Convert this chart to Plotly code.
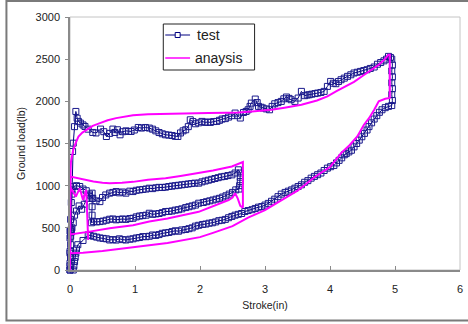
import plotly.graph_objects as go

# ---------------- data ----------------
test_x = [0.0, 0.01, 0.02, 0.03, 0.04, 0.05, 0.07, 0.09, 0.11, 0.13, 0.16, 0.2, 0.23, 0.28, 0.35, 0.4, 0.47, 0.52, 0.56, 0.61,
          0.66, 0.69, 0.73, 0.77, 0.81, 0.86, 0.9, 0.94, 0.99, 1.05, 1.1, 1.16, 1.22, 1.27, 1.32, 1.37, 1.42, 1.47, 1.52, 1.57,
          1.62, 1.66, 1.7, 1.74, 1.78, 1.82, 1.85, 1.89, 1.93, 1.98, 2.03, 2.08, 2.12, 2.16, 2.21, 2.26, 2.3, 2.34, 2.39, 2.44,
          2.49, 2.54, 2.58, 2.62, 2.67, 2.71, 2.74, 2.77, 2.79, 2.85, 2.88, 2.9, 2.94, 2.97, 3.02, 3.07, 3.11, 3.15, 3.2, 3.25,
          3.29, 3.33, 3.37, 3.4, 3.46, 3.51, 3.56, 3.61, 3.65, 3.68, 3.72, 3.77, 3.81, 3.86, 3.91, 3.96, 4.01, 4.05, 4.09, 4.13,
          4.17, 4.22, 4.27, 4.32, 4.37, 4.42, 4.47, 4.52, 4.57, 4.62, 4.68, 4.73, 4.78, 4.83, 4.87, 4.9, 4.93,
          4.95, 4.96, 4.95, 4.96, 4.95, 4.96, 4.95, 4.96, 4.95,
          4.9, 4.85, 4.8, 4.76, 4.72, 4.68, 4.64, 4.6, 4.57, 4.53, 4.49, 4.45, 4.41, 4.37, 4.33, 4.29, 4.25, 4.22, 4.18, 4.14,
          4.1, 4.06, 4.01, 3.96, 3.91, 3.86, 3.81, 3.76, 3.71, 3.66, 3.61, 3.56, 3.51, 3.46, 3.41, 3.36, 3.31, 3.25, 3.2, 3.15,
          3.1, 3.05, 3.0, 2.95, 2.9, 2.85, 2.8, 2.74, 2.69, 2.64, 2.59, 2.54, 2.49, 2.44, 2.39, 2.34, 2.29, 2.24, 2.19, 2.14,
          2.09, 2.04, 1.98, 1.93, 1.88, 1.83, 1.78, 1.72, 1.67, 1.62, 1.57, 1.52, 1.47, 1.42, 1.37, 1.32, 1.27, 1.22, 1.17, 1.12,
          1.07, 1.02, 0.97, 0.92, 0.86, 0.81, 0.76, 0.71, 0.66, 0.61, 0.56, 0.51, 0.46, 0.41, 0.36, 0.31, 0.28,
          0.2, 0.12, 0.1, 0.09, 0.08, 0.07, 0.06, 0.05,
          0.0, 0.0, 0.01, 0.01, 0.02, 0.03,
          0.05, 0.1, 0.15, 0.2, 0.25, 0.3, 0.35, 0.4, 0.46, 0.5, 0.55, 0.61, 0.66, 0.71, 0.76, 0.81, 0.86, 0.92, 0.97, 1.02,
          1.07, 1.12, 1.17, 1.22, 1.27, 1.32, 1.37, 1.42, 1.47, 1.52, 1.57, 1.62, 1.67, 1.72, 1.77, 1.82, 1.87, 1.92, 1.98, 2.03,
          2.08, 2.13, 2.18, 2.23, 2.28, 2.33, 2.38, 2.43, 2.49, 2.54, 2.59,
          2.62, 2.62, 2.62, 2.61, 2.6,
          2.55, 2.5, 2.45, 2.4, 2.35, 2.3, 2.25, 2.2, 2.15, 2.1, 2.05, 1.98, 1.93, 1.88, 1.83, 1.78, 1.72, 1.67, 1.62, 1.57,
          1.52, 1.47, 1.42, 1.37, 1.32, 1.27, 1.22, 1.17, 1.12, 1.07, 1.02, 0.97, 0.92, 0.86, 0.81, 0.76, 0.71, 0.66, 0.61, 0.56,
          0.51, 0.46, 0.41, 0.36, 0.33,
          0.34, 0.34, 0.34, 0.34,
          0.3, 0.26, 0.22, 0.18, 0.14, 0.1, 0.07, 0.05, 0.03, 0.02, 0.01, 0.0, 0.0, 0.01, 0.0, 0.01, 0.0, 0.0]

test_y = [0, 150, 450, 900, 1405, 1504, 1700, 1880, 1800, 1762, 1742, 1720, 1702, 1670, 1631, 1625, 1671, 1640, 1583, 1620,
          1671, 1631, 1663, 1603, 1640, 1650, 1643, 1643, 1660, 1690, 1683, 1690, 1683, 1670, 1650, 1630, 1615, 1603, 1600, 1595,
          1585, 1583, 1625, 1650, 1663, 1700, 1781, 1760, 1734, 1745, 1762, 1750, 1755, 1750, 1760, 1762, 1775, 1790, 1795, 1813,
          1830, 1861, 1830, 1802, 1868, 1880, 1900, 1940, 1979, 2027, 1985, 1940, 1930, 1920, 1910, 1900, 1940, 1971, 1985, 1999,
          2030, 2051, 2035, 2019, 1999, 2039, 2118, 2067, 2075, 2078, 2085, 2092, 2098, 2105, 2118, 2177, 2236, 2215, 2209, 2235,
          2256, 2275, 2296, 2315, 2336, 2345, 2355, 2365, 2375, 2390, 2407, 2440, 2460, 2480, 2500, 2533, 2520,
          2500, 2430, 2360, 2290, 2220, 2150, 2080, 2010, 1950,
          1940, 1925, 1900, 1870, 1830, 1790, 1745, 1700, 1660, 1620, 1580, 1540, 1500, 1460, 1420, 1400, 1380, 1366, 1330, 1300,
          1270, 1240, 1225, 1208, 1180, 1150, 1130, 1110, 1089, 1060, 1040, 1010, 990, 970, 950, 935, 920, 900, 870, 840,
          815, 790, 770, 752, 745, 730, 715, 705, 693, 670, 660, 650, 635, 620, 600, 590, 585, 570, 560, 555,
          545, 540, 530, 520, 500, 490, 480, 475, 460, 465, 455, 445, 440, 435, 420, 410, 415, 400, 395, 396,
          385, 380, 370, 365, 356, 360, 370, 355, 360, 356, 370, 375, 380, 390, 400, 410, 416,
          350, 300, 250, 200, 150, 100, 50, 0,
          50, 200, 400, 600, 800, 950,
          990, 1000, 990, 960, 940, 880, 850, 820, 811, 860, 890, 911, 920, 930, 915, 925, 911, 935, 930, 945,
          950, 955, 960, 970, 965, 975, 980, 978, 982, 990, 995, 1000, 1005, 1010, 1015, 1020, 1025, 1030, 1030, 1045,
          1055, 1065, 1075, 1085, 1095, 1105, 1110, 1120, 1128, 1150, 1188,
          1150, 1100, 1050, 1000, 960,
          950, 920, 900, 880, 865, 850, 840, 830, 820, 810, 800, 792, 770, 760, 750, 740, 725, 715, 710, 700,
          695, 693, 680, 670, 665, 660, 673, 650, 645, 640, 630, 614, 610, 600, 605, 600, 595, 605, 602, 590,
          580, 574, 570, 574, 560,
          650, 750, 850, 911,
          900, 850, 780, 720, 760, 700, 650, 560, 500, 480, 470, 460, 380, 300, 220, 150, 80, 0]

ana_x = [0.0, 0.0, 0.005, 0.01, 0.015, 0.03, 0.05, 0.09, 0.13, 0.19, 0.25, 0.35, 0.46, 0.58, 0.71, 0.84, 0.97, 1.2, 1.5, 1.8,
         2.13, 2.4, 2.59, 2.8, 3.1, 3.3, 3.56, 3.8, 3.96, 4.1, 4.25, 4.37, 4.5, 4.6, 4.68, 4.76, 4.83, 4.9,
         4.92, 4.92, 4.92, 4.85, 4.8, 4.75, 4.68, 4.6, 4.52, 4.42, 4.3, 4.17, 4.0, 3.76, 3.5, 3.25, 3.0, 2.74, 2.5, 2.2,
         2.0, 1.5, 1.0, 0.5, 0.2, 0.0,
         0.0, 0.1, 0.2, 0.36, 0.5, 0.61, 0.8, 0.97, 1.2, 1.47, 1.7, 1.98, 2.2, 2.49, 2.66,
         2.66, 2.66, 2.62, 2.58, 2.54, 2.5, 2.44, 2.2, 1.98, 1.5, 1.22, 0.97, 0.61, 0.3, 0.0,
         0.0, 0.05, 0.09, 0.15, 0.2, 0.25, 0.28]

ana_y = [0, 600, 1000, 1200, 1286, 1370, 1425, 1510, 1583, 1630, 1663, 1710, 1742, 1775, 1801, 1822, 1835, 1848, 1855, 1860,
         1862, 1866, 1868, 1880, 1900, 1925, 1960, 2010, 2058, 2120, 2180, 2230, 2300, 2350, 2390, 2440, 2490, 2553,
         2553, 2300, 2040, 2030, 2019, 2000, 1900, 1800, 1720, 1583, 1480, 1386, 1220, 1100, 940, 830, 710, 620, 520, 440,
         390, 320, 270, 225, 205, 200,
         1108, 1090, 1075, 1050, 1035, 1030, 1035, 1045, 1070, 1089, 1115, 1148, 1180, 1227, 1280,
         1000, 740, 760, 850, 910, 860, 830, 760, 690, 610, 574, 530, 495, 455, 420,
         990, 930, 870, 970, 831, 950, 356]

series_names = ["test", "anaysis"]
x_ticks = [0, 1, 2, 3, 4, 5, 6]
y_ticks = [0, 500, 1000, 1500, 2000, 2500, 3000]

FONT = "Liberation Sans, Arial, sans-serif"
NAVY = "#000080"
MAGENTA = "#ff00ff"

fig = go.Figure()
fig.add_trace(go.Scatter(
    x=test_x, y=test_y, name=series_names[0], mode="lines+markers",
    line=dict(color=NAVY, width=1),
    marker=dict(symbol="square-open", size=6, color="#1a1a8c", line=dict(width=1)),
    cliponaxis=False, showlegend=False,
))
fig.add_trace(go.Scatter(
    x=ana_x, y=ana_y, name=series_names[1], mode="lines",
    line=dict(color=MAGENTA, width=2),
    cliponaxis=False, showlegend=False,
))

# manual legend (box, sample lines, labels) in paper coordinates
def px_x(p):
    return (p - 70) / 393.0

def px_y(p):
    return (270 - p) / 253.0

shapes = [
    dict(type="rect", xref="paper", yref="paper", x0=0, y0=0, x1=1, y1=1,
         line=dict(color="#c4c4c4", width=1), layer="below"),
    dict(type="rect", xref="paper", yref="paper", x0=-0.163, y0=-0.2, x1=1.03, y1=1.063,
         line=dict(color="#7a7a7a", width=2)),
    # legend box
    dict(type="rect", xref="paper", yref="paper", x0=px_x(164), y0=px_y(70), x1=px_x(256), y1=px_y(24),
         line=dict(color="#222222", width=1), fillcolor="white"),
    dict(type="line", xref="paper", yref="paper", x0=px_x(166), y0=px_y(35), x1=px_x(191), y1=px_y(35),
         line=dict(color=NAVY, width=1)),
    dict(type="rect", xref="paper", yref="paper", x0=px_x(176), y0=px_y(37.5), x1=px_x(181), y1=px_y(32.5),
         line=dict(color=NAVY, width=1), fillcolor="white"),
    dict(type="line", xref="paper", yref="paper", x0=px_x(166), y0=px_y(58), x1=px_x(191), y1=px_y(58),
         line=dict(color=MAGENTA, width=1.5)),
]
annotations = [
    dict(xref="paper", yref="paper", x=px_x(196), y=px_y(35), text=series_names[0], showarrow=False,
         xanchor="left", yanchor="middle", font=dict(family=FONT, size=14, color="#222222")),
    dict(xref="paper", yref="paper", x=px_x(194), y=px_y(58), text=series_names[1], showarrow=False,
         xanchor="left", yanchor="middle", font=dict(family=FONT, size=14, color="#222222")),
]

fig.update_layout(
    width=468, height=324,
    margin=dict(l=70, r=5, t=17, b=54),
    paper_bgcolor="white", plot_bgcolor="white",
    font=dict(family=FONT, size=11, color="#222222"),
    showlegend=False,
    xaxis=dict(range=[0, 6], tickvals=x_ticks, ticktext=[str(v) for v in x_ticks],
               showgrid=False, zeroline=False, showline=True, linecolor="#8a8a8a", linewidth=1.5,
               ticks="inside", ticklen=4, tickcolor="#8a8a8a", ticklabelstandoff=8,
               title=dict(text="Stroke(in)", font=dict(size=10.5), standoff=8)),
    yaxis=dict(range=[0, 3000], tickvals=y_ticks, ticktext=[str(v) for v in y_ticks],
               showgrid=False, zeroline=False, showline=True, linecolor="#8a8a8a", linewidth=1.5,
               ticks="outside", ticklen=3, tickcolor="#8a8a8a", ticklabelstandoff=3,
               title=dict(text="Ground load(lb)", font=dict(size=10.5), standoff=8)),
    shapes=shapes,
    annotations=annotations,
)

fig.write_html("out.html")
